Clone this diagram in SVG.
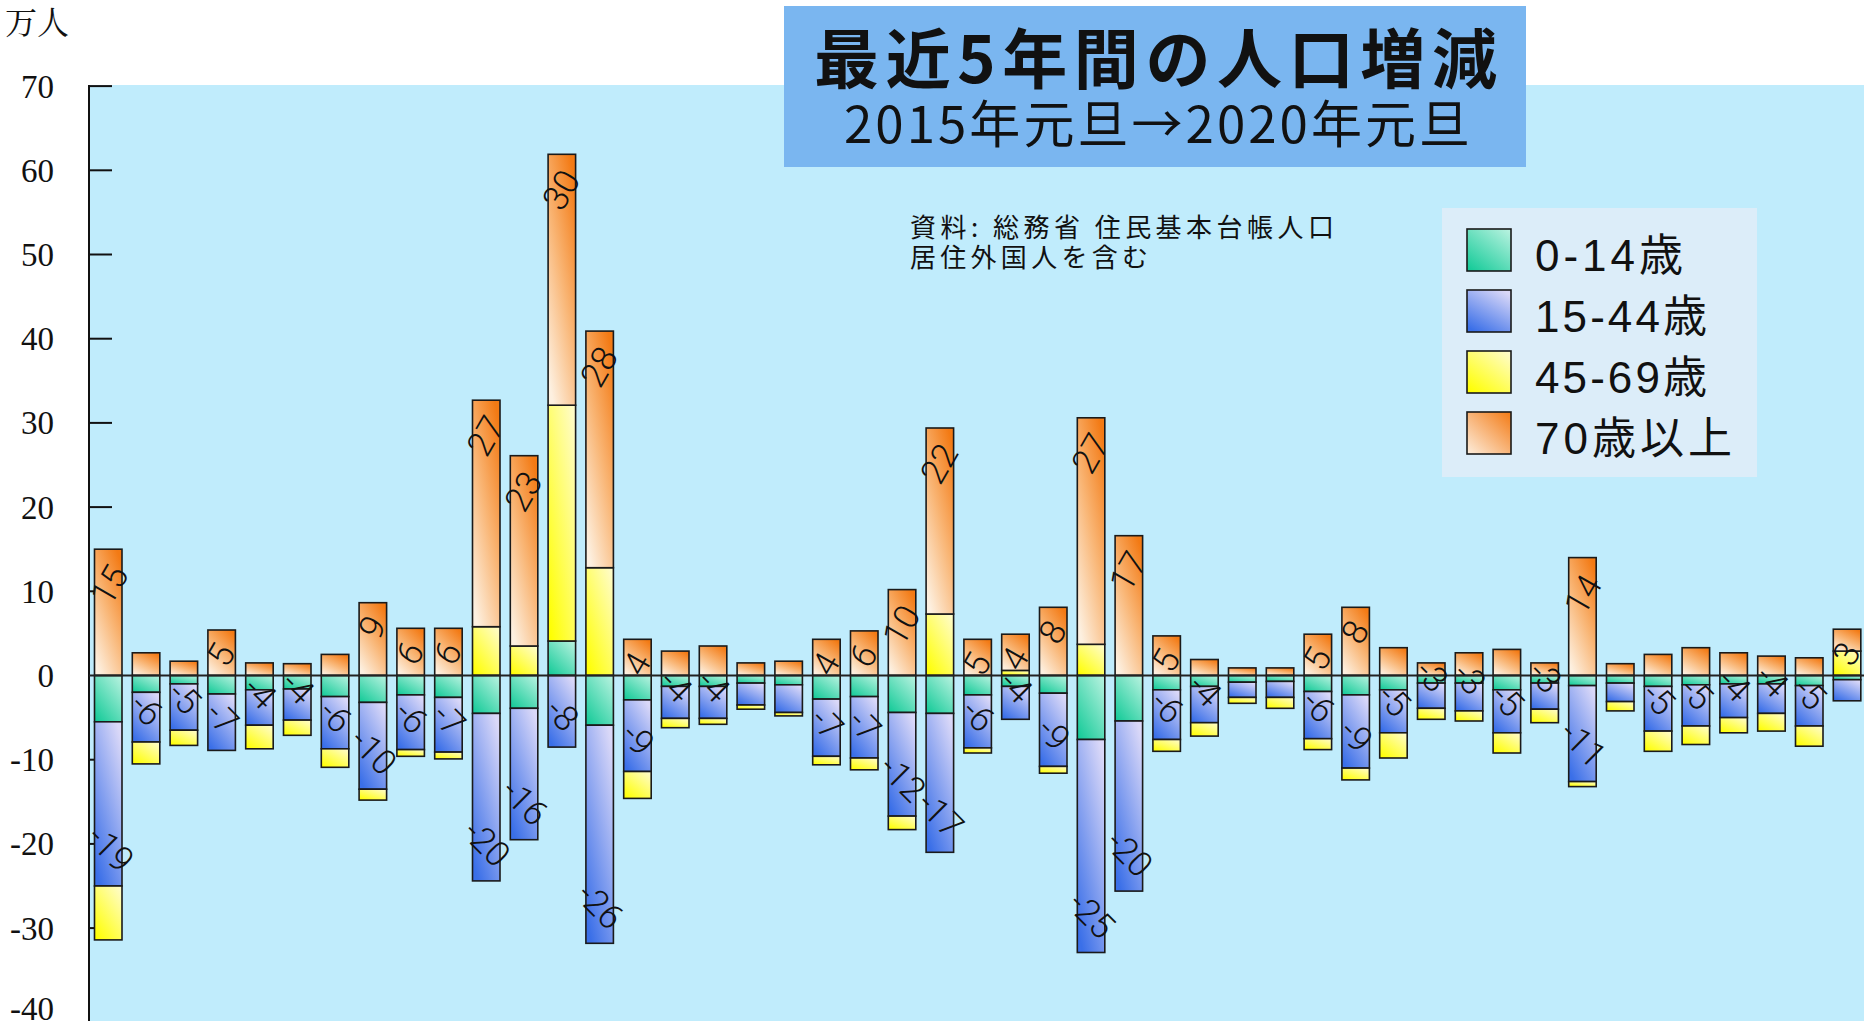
<svg xmlns="http://www.w3.org/2000/svg" width="1864" height="1024" viewBox="0 0 1864 1024">
<defs>
<linearGradient id="gO" x1="0.8" y1="0" x2="0.2" y2="1"><stop offset="0" stop-color="#f37a14"/><stop offset="0.5" stop-color="#f9b676"/><stop offset="1" stop-color="#fdf0e0"/></linearGradient>
<linearGradient id="gY" x1="0.9" y1="0" x2="0.1" y2="1"><stop offset="0" stop-color="#fffcc8"/><stop offset="1" stop-color="#ffff00"/></linearGradient>
<linearGradient id="gB" x1="0.8" y1="0" x2="0.2" y2="1"><stop offset="0" stop-color="#dad8f8"/><stop offset="1" stop-color="#3a6fe8"/></linearGradient>
<linearGradient id="gG" x1="0.9" y1="0" x2="0.1" y2="1"><stop offset="0" stop-color="#b4f1de"/><stop offset="1" stop-color="#16cb99"/></linearGradient>
<linearGradient id="gOL" x1="1" y1="0" x2="0" y2="1"><stop offset="0" stop-color="#f37a14"/><stop offset="1" stop-color="#fdeedd"/></linearGradient>
</defs>
<style>
rect.o,rect.y,rect.b,rect.g{stroke:#1a1a1a;stroke-width:1.6}
.o{fill:url(#gO)}
.y{fill:url(#gY)}
.b{fill:url(#gB)}
.g{fill:url(#gG)}
.ax{font-family:"Liberation Serif","Times New Roman",serif;font-size:33px;fill:#111;text-anchor:end}
.lbl{font-family:Roboto,"Liberation Sans",Arial,sans-serif;font-weight:300;font-size:35px;fill:#111;text-anchor:middle;dominant-baseline:central}
.tick{stroke:#111;stroke-width:2}
.cjk{font-family:"Liberation Sans","Noto Sans CJK JP",sans-serif;fill:#111}
.jp{font-family:"Noto Sans CJK JP",sans-serif;fill:#111}
</style>
<rect x="0" y="0" width="1864" height="1024" fill="#ffffff"/>
<rect id="plot" x="89" y="85" width="1775" height="936" fill="#c0ecfc"/>
<text x="5" y="34" font-family="'Noto Serif CJK JP','Noto Sans CJK JP',serif" font-size="32" textLength="64" fill="#111">万人</text>
<g id="axis">
<line class="tick" x1="89" y1="85" x2="89" y2="1021"/>
<line class="tick" x1="89" y1="86.1" x2="112" y2="86.1"/>
<line class="tick" x1="89" y1="170.3" x2="112" y2="170.3"/>
<line class="tick" x1="89" y1="254.5" x2="112" y2="254.5"/>
<line class="tick" x1="89" y1="338.7" x2="112" y2="338.7"/>
<line class="tick" x1="89" y1="422.9" x2="112" y2="422.9"/>
<line class="tick" x1="89" y1="507.1" x2="112" y2="507.1"/>
<line class="tick" x1="89" y1="591.3" x2="112" y2="591.3"/>
<line class="tick" x1="89" y1="759.7" x2="112" y2="759.7"/>
<line class="tick" x1="89" y1="843.9" x2="112" y2="843.9"/>
<line class="tick" x1="89" y1="928.1" x2="112" y2="928.1"/>
<text class="ax" x="54" y="97.6">70</text>
<text class="ax" x="54" y="181.8">60</text>
<text class="ax" x="54" y="266">50</text>
<text class="ax" x="54" y="350.2">40</text>
<text class="ax" x="54" y="434.4">30</text>
<text class="ax" x="54" y="518.6">20</text>
<text class="ax" x="54" y="602.8">10</text>
<text class="ax" x="54" y="687">0</text>
<text class="ax" x="54" y="771.2">-10</text>
<text class="ax" x="54" y="855.4">-20</text>
<text class="ax" x="54" y="939.6">-30</text>
<text class="ax" x="54" y="1020">-40</text>
</g>
<g id="title">
<rect x="784" y="6" width="742" height="161" fill="#7ab6f0"/>
<text class="jp"><tspan x="814" y="83" font-size="65" font-weight="bold" textLength="683">最近5年間の人口増減</tspan><tspan x="844" y="143" font-size="51" textLength="626">2015年元旦→2020年元旦</tspan></text>
</g>
<g id="source">
<text class="jp" font-size="26"><tspan x="910" y="237" textLength="424">資料: 総務省 住民基本台帳人口</tspan><tspan x="910" y="267" textLength="238">居住外国人を含む</tspan></text>
</g>
<g id="bars">
<g id="bar01" transform="translate(94.5 0)"><rect class="o" y="549.2" width="27.5" height="126.3"/><rect class="g" y="675.5" width="27.5" height="46.3"/><rect class="b" y="721.8" width="27.5" height="164.2"/><rect class="y" y="886" width="27.5" height="53.9"/></g>
<g id="bar02" transform="translate(132.3 0)"><rect class="o" y="652.8" width="27.5" height="22.7"/><rect class="g" y="675.5" width="27.5" height="16.8"/><rect class="b" y="692.3" width="27.5" height="49.7"/><rect class="y" y="742" width="27.5" height="21.9"/></g>
<g id="bar03" transform="translate(170.1 0)"><rect class="o" y="661.2" width="27.5" height="14.3"/><rect class="g" y="675.5" width="27.5" height="8.4"/><rect class="b" y="683.9" width="27.5" height="46.3"/><rect class="y" y="730.2" width="27.5" height="15.2"/></g>
<g id="bar04" transform="translate(207.9 0)"><rect class="o" y="630" width="27.5" height="45.5"/><rect class="g" y="675.5" width="27.5" height="18.5"/><rect class="b" y="694" width="27.5" height="56.4"/></g>
<g id="bar05" transform="translate(245.7 0)"><rect class="o" y="662.9" width="27.5" height="12.6"/><rect class="g" y="675.5" width="27.5" height="14.3"/><rect class="b" y="689.8" width="27.5" height="35.4"/><rect class="y" y="725.2" width="27.5" height="23.6"/></g>
<g id="bar06" transform="translate(283.5 0)"><rect class="o" y="663.7" width="27.5" height="11.8"/><rect class="g" y="675.5" width="27.5" height="13.5"/><rect class="b" y="689" width="27.5" height="31.1"/><rect class="y" y="720.1" width="27.5" height="15.2"/></g>
<g id="bar07" transform="translate(321.3 0)"><rect class="o" y="654.4" width="27.5" height="21.1"/><rect class="g" y="675.5" width="27.5" height="21.1"/><rect class="b" y="696.6" width="27.5" height="52.2"/><rect class="y" y="748.8" width="27.5" height="18.5"/></g>
<g id="bar08" transform="translate(359.1 0)"><rect class="o" y="602.7" width="27.5" height="72.8"/><rect class="g" y="675.5" width="27.5" height="26.9"/><rect class="b" y="702.4" width="27.5" height="86.8"/><rect class="y" y="789.2" width="27.5" height="10.9"/></g>
<g id="bar09" transform="translate(396.9 0)"><rect class="o" y="628.3" width="27.5" height="47.2"/><rect class="g" y="675.5" width="27.5" height="19.4"/><rect class="b" y="694.9" width="27.5" height="54.7"/><rect class="y" y="749.6" width="27.5" height="6.7"/></g>
<g id="bar10" transform="translate(434.7 0)"><rect class="o" y="628.3" width="27.5" height="47.2"/><rect class="g" y="675.5" width="27.5" height="21.9"/><rect class="b" y="697.4" width="27.5" height="54.7"/><rect class="y" y="752.1" width="27.5" height="6.8"/></g>
<g id="bar11" transform="translate(472.5 0)"><rect class="y" y="626.7" width="27.5" height="48.8"/><rect class="o" y="400.2" width="27.5" height="226.5"/><rect class="g" y="675.5" width="27.5" height="37.9"/><rect class="b" y="713.4" width="27.5" height="167.5"/></g>
<g id="bar12" transform="translate(510.3 0)"><rect class="y" y="646" width="27.5" height="29.5"/><rect class="o" y="455.7" width="27.5" height="190.3"/><rect class="g" y="675.5" width="27.5" height="32.8"/><rect class="b" y="708.3" width="27.5" height="131.4"/></g>
<g id="bar13" transform="translate(548.1 0)"><rect class="g" y="641" width="27.5" height="34.5"/><rect class="y" y="405.2" width="27.5" height="235.8"/><rect class="o" y="154.3" width="27.5" height="250.9"/><rect class="b" y="675.5" width="27.5" height="71.6"/></g>
<g id="bar14" transform="translate(585.9 0)"><rect class="y" y="567.7" width="27.5" height="107.8"/><rect class="o" y="331.1" width="27.5" height="236.6"/><rect class="g" y="675.5" width="27.5" height="49.7"/><rect class="b" y="725.2" width="27.5" height="218.1"/></g>
<g id="bar15" transform="translate(623.7 0)"><rect class="o" y="639.3" width="27.5" height="36.2"/><rect class="g" y="675.5" width="27.5" height="24.4"/><rect class="b" y="699.9" width="27.5" height="71.6"/><rect class="y" y="771.5" width="27.5" height="26.9"/></g>
<g id="bar16" transform="translate(661.5 0)"><rect class="o" y="651.1" width="27.5" height="24.4"/><rect class="g" y="675.5" width="27.5" height="10.9"/><rect class="b" y="686.4" width="27.5" height="32"/><rect class="y" y="718.4" width="27.5" height="9.3"/></g>
<g id="bar17" transform="translate(699.3 0)"><rect class="o" y="646" width="27.5" height="29.5"/><rect class="g" y="675.5" width="27.5" height="10.9"/><rect class="b" y="686.4" width="27.5" height="32"/><rect class="y" y="718.4" width="27.5" height="5.9"/></g>
<g id="bar18" transform="translate(737.1 0)"><rect class="o" y="662.9" width="27.5" height="12.6"/><rect class="g" y="675.5" width="27.5" height="7.6"/><rect class="b" y="683.1" width="27.5" height="21.9"/><rect class="y" y="705" width="27.5" height="4.2"/></g>
<g id="bar19" transform="translate(774.9 0)"><rect class="o" y="661.2" width="27.5" height="14.3"/><rect class="g" y="675.5" width="27.5" height="9.3"/><rect class="b" y="684.8" width="27.5" height="27.7"/><rect class="y" y="712.5" width="27.5" height="3.4"/></g>
<g id="bar20" transform="translate(812.7 0)"><rect class="o" y="639.3" width="27.5" height="36.2"/><rect class="g" y="675.5" width="27.5" height="23.6"/><rect class="b" y="699.1" width="27.5" height="57.2"/><rect class="y" y="756.3" width="27.5" height="8.5"/></g>
<g id="bar21" transform="translate(850.5 0)"><rect class="o" y="630.9" width="27.5" height="44.6"/><rect class="g" y="675.5" width="27.5" height="21.1"/><rect class="b" y="696.6" width="27.5" height="61.4"/><rect class="y" y="758" width="27.5" height="11.8"/></g>
<g id="bar22" transform="translate(888.3 0)"><rect class="o" y="589.6" width="27.5" height="85.9"/><rect class="g" y="675.5" width="27.5" height="37"/><rect class="b" y="712.5" width="27.5" height="103.6"/><rect class="y" y="816.1" width="27.5" height="13.5"/></g>
<g id="bar23" transform="translate(926.1 0)"><rect class="y" y="614" width="27.5" height="61.5"/><rect class="o" y="428" width="27.5" height="186"/><rect class="g" y="675.5" width="27.5" height="37.9"/><rect class="b" y="713.4" width="27.5" height="138.9"/></g>
<g id="bar24" transform="translate(963.9 0)"><rect class="o" y="639.3" width="27.5" height="36.2"/><rect class="g" y="675.5" width="27.5" height="19.4"/><rect class="b" y="694.9" width="27.5" height="53"/><rect class="y" y="747.9" width="27.5" height="5.1"/></g>
<g id="bar25" transform="translate(1001.7 0)"><rect class="y" y="670.4" width="27.5" height="5.1"/><rect class="o" y="634.2" width="27.5" height="36.2"/><rect class="g" y="675.5" width="27.5" height="10.9"/><rect class="b" y="686.4" width="27.5" height="32.9"/></g>
<g id="bar26" transform="translate(1039.5 0)"><rect class="o" y="607.3" width="27.5" height="68.2"/><rect class="g" y="675.5" width="27.5" height="17.7"/><rect class="b" y="693.2" width="27.5" height="73.2"/><rect class="y" y="766.4" width="27.5" height="6.8"/></g>
<g id="bar27" transform="translate(1077.3 0)"><rect class="y" y="644.3" width="27.5" height="31.2"/><rect class="o" y="417.8" width="27.5" height="226.5"/><rect class="g" y="675.5" width="27.5" height="64"/><rect class="b" y="739.5" width="27.5" height="213"/></g>
<g id="bar28" transform="translate(1115.1 0)"><rect class="o" y="535.7" width="27.5" height="139.8"/><rect class="g" y="675.5" width="27.5" height="45.5"/><rect class="b" y="721" width="27.5" height="170.1"/></g>
<g id="bar29" transform="translate(1152.9 0)"><rect class="o" y="635.9" width="27.5" height="39.6"/><rect class="g" y="675.5" width="27.5" height="14.3"/><rect class="b" y="689.8" width="27.5" height="49.7"/><rect class="y" y="739.5" width="27.5" height="11.8"/></g>
<g id="bar30" transform="translate(1190.7 0)"><rect class="o" y="659.5" width="27.5" height="16"/><rect class="g" y="675.5" width="27.5" height="10.9"/><rect class="b" y="686.4" width="27.5" height="36.3"/><rect class="y" y="722.7" width="27.5" height="13.4"/></g>
<g id="bar31" transform="translate(1228.5 0)"><rect class="o" y="667.9" width="27.5" height="7.6"/><rect class="g" y="675.5" width="27.5" height="6.7"/><rect class="b" y="682.2" width="27.5" height="15.2"/><rect class="y" y="697.4" width="27.5" height="5.9"/></g>
<g id="bar32" transform="translate(1266.3 0)"><rect class="o" y="667.9" width="27.5" height="7.6"/><rect class="g" y="675.5" width="27.5" height="5.9"/><rect class="b" y="681.4" width="27.5" height="16"/><rect class="y" y="697.4" width="27.5" height="10.9"/></g>
<g id="bar33" transform="translate(1304.1 0)"><rect class="o" y="634.2" width="27.5" height="41.3"/><rect class="g" y="675.5" width="27.5" height="16"/><rect class="b" y="691.5" width="27.5" height="47.2"/><rect class="y" y="738.7" width="27.5" height="10.9"/></g>
<g id="bar34" transform="translate(1341.9 0)"><rect class="o" y="607.3" width="27.5" height="68.2"/><rect class="g" y="675.5" width="27.5" height="19.4"/><rect class="b" y="694.9" width="27.5" height="73.2"/><rect class="y" y="768.1" width="27.5" height="11.8"/></g>
<g id="bar35" transform="translate(1379.7 0)"><rect class="o" y="647.7" width="27.5" height="27.8"/><rect class="g" y="675.5" width="27.5" height="14.3"/><rect class="b" y="689.8" width="27.5" height="43"/><rect class="y" y="732.8" width="27.5" height="25.2"/></g>
<g id="bar36" transform="translate(1417.5 0)"><rect class="o" y="662.9" width="27.5" height="12.6"/><rect class="g" y="675.5" width="27.5" height="7.6"/><rect class="b" y="683.1" width="27.5" height="25.2"/><rect class="y" y="708.3" width="27.5" height="11"/></g>
<g id="bar37" transform="translate(1455.3 0)"><rect class="o" y="652.8" width="27.5" height="22.7"/><rect class="g" y="675.5" width="27.5" height="7.6"/><rect class="b" y="683.1" width="27.5" height="27.8"/><rect class="y" y="710.9" width="27.5" height="10.1"/></g>
<g id="bar38" transform="translate(1493.1 0)"><rect class="o" y="649.4" width="27.5" height="26.1"/><rect class="g" y="675.5" width="27.5" height="14.3"/><rect class="b" y="689.8" width="27.5" height="43"/><rect class="y" y="732.8" width="27.5" height="20.2"/></g>
<g id="bar39" transform="translate(1530.9 0)"><rect class="o" y="662.9" width="27.5" height="12.6"/><rect class="g" y="675.5" width="27.5" height="7.6"/><rect class="b" y="683.1" width="27.5" height="26.1"/><rect class="y" y="709.2" width="27.5" height="13.5"/></g>
<g id="bar40" transform="translate(1568.7 0)"><rect class="o" y="557.6" width="27.5" height="117.9"/><rect class="g" y="675.5" width="27.5" height="10.1"/><rect class="b" y="685.6" width="27.5" height="96"/><rect class="y" y="781.6" width="27.5" height="5"/></g>
<g id="bar41" transform="translate(1606.5 0)"><rect class="o" y="663.7" width="27.5" height="11.8"/><rect class="g" y="675.5" width="27.5" height="7.6"/><rect class="b" y="683.1" width="27.5" height="18.5"/><rect class="y" y="701.6" width="27.5" height="9.3"/></g>
<g id="bar42" transform="translate(1644.3 0)"><rect class="o" y="654.4" width="27.5" height="21.1"/><rect class="g" y="675.5" width="27.5" height="10.9"/><rect class="b" y="686.4" width="27.5" height="44.7"/><rect class="y" y="731.1" width="27.5" height="20.2"/></g>
<g id="bar43" transform="translate(1682.1 0)"><rect class="o" y="647.7" width="27.5" height="27.8"/><rect class="g" y="675.5" width="27.5" height="9.3"/><rect class="b" y="684.8" width="27.5" height="41.2"/><rect class="y" y="726" width="27.5" height="18.5"/></g>
<g id="bar44" transform="translate(1719.9 0)"><rect class="o" y="652.8" width="27.5" height="22.7"/><rect class="g" y="675.5" width="27.5" height="8.4"/><rect class="b" y="683.9" width="27.5" height="33.7"/><rect class="y" y="717.6" width="27.5" height="15.2"/></g>
<g id="bar45" transform="translate(1757.7 0)"><rect class="o" y="656.1" width="27.5" height="19.4"/><rect class="g" y="675.5" width="27.5" height="8.4"/><rect class="b" y="683.9" width="27.5" height="29.5"/><rect class="y" y="713.4" width="27.5" height="17.7"/></g>
<g id="bar46" transform="translate(1795.5 0)"><rect class="o" y="657.8" width="27.5" height="17.7"/><rect class="g" y="675.5" width="27.5" height="10.1"/><rect class="b" y="685.6" width="27.5" height="40.4"/><rect class="y" y="726" width="27.5" height="20.2"/></g>
<g id="bar47" transform="translate(1833.3 0)"><rect class="y" y="651.1" width="27.5" height="24.4"/><rect class="o" y="629.2" width="27.5" height="21.9"/><rect class="g" y="675.5" width="27.5" height="4.2"/><rect class="b" y="679.7" width="27.5" height="21.1"/></g>
</g>
<line id="zero" x1="89" y1="675.5" x2="1864" y2="675.5" stroke="#222" stroke-width="2"/>
<g id="labels">
<text class="lbl" transform="translate(110 585.2) rotate(-60)">15</text>
<text class="lbl" transform="translate(221.65 655) rotate(-60)">5</text>
<text class="lbl" transform="translate(372.85 627.7) rotate(-60)">9</text>
<text class="lbl" transform="translate(410.65 653.3) rotate(-60)">6</text>
<text class="lbl" transform="translate(448.45 653.3) rotate(-60)">6</text>
<text class="lbl" transform="translate(486.25 436.2) rotate(-60)">27</text>
<text class="lbl" transform="translate(524.05 491.7) rotate(-60)">23</text>
<text class="lbl" transform="translate(561.85 190.3) rotate(-60)">30</text>
<text class="lbl" transform="translate(599.65 367.1) rotate(-60)">28</text>
<text class="lbl" transform="translate(637.45 664.3) rotate(-60)">4</text>
<text class="lbl" transform="translate(826.45 664.3) rotate(-60)">4</text>
<text class="lbl" transform="translate(864.25 655.9) rotate(-60)">6</text>
<text class="lbl" transform="translate(902.05 625.6) rotate(-60)">10</text>
<text class="lbl" transform="translate(939.85 464) rotate(-60)">22</text>
<text class="lbl" transform="translate(977.65 664.3) rotate(-60)">5</text>
<text class="lbl" transform="translate(1015.45 659.2) rotate(-60)">4</text>
<text class="lbl" transform="translate(1053.25 632.3) rotate(-60)">8</text>
<text class="lbl" transform="translate(1091.05 453.8) rotate(-60)">27</text>
<text class="lbl" transform="translate(1128.85 571.7) rotate(-60)">17</text>
<text class="lbl" transform="translate(1166.65 660.9) rotate(-60)">5</text>
<text class="lbl" transform="translate(1317.85 659.2) rotate(-60)">5</text>
<text class="lbl" transform="translate(1355.65 632.3) rotate(-60)">8</text>
<text class="lbl" transform="translate(1583.5 595) rotate(-60)">14</text>
<text class="lbl" transform="translate(1847.05 654.2) rotate(-60)">3</text>
<text class="lbl" transform="translate(110 849) rotate(45)">-19</text>
<text class="lbl" transform="translate(146.05 710) rotate(45)">-6</text>
<text class="lbl" transform="translate(183.85 698.2) rotate(45)">-5</text>
<text class="lbl" transform="translate(221.65 718.4) rotate(45)">-7</text>
<text class="lbl" transform="translate(259.45 693.2) rotate(45)">-4</text>
<text class="lbl" transform="translate(297.25 688.1) rotate(45)">-4</text>
<text class="lbl" transform="translate(335.05 716.8) rotate(45)">-6</text>
<text class="lbl" transform="translate(372.85 752.2) rotate(45)">-10</text>
<text class="lbl" transform="translate(410.65 717.6) rotate(45)">-6</text>
<text class="lbl" transform="translate(448.45 720.1) rotate(45)">-7</text>
<text class="lbl" transform="translate(486.25 843.9) rotate(45)">-20</text>
<text class="lbl" transform="translate(524.05 802.7) rotate(45)">-16</text>
<text class="lbl" transform="translate(561.85 715.1) rotate(45)">-8</text>
<text class="lbl" transform="translate(599.65 906.3) rotate(45)">-26</text>
<text class="lbl" transform="translate(637.45 739.5) rotate(45)">-9</text>
<text class="lbl" transform="translate(675.25 686.4) rotate(45)">-4</text>
<text class="lbl" transform="translate(713.05 686.4) rotate(45)">-4</text>
<text class="lbl" transform="translate(826.45 724.3) rotate(45)">-7</text>
<text class="lbl" transform="translate(864.25 726) rotate(45)">-7</text>
<text class="lbl" transform="translate(902.05 779.1) rotate(45)">-12</text>
<text class="lbl" transform="translate(939.85 815.3) rotate(45)">-17</text>
<text class="lbl" transform="translate(977.65 715.9) rotate(45)">-6</text>
<text class="lbl" transform="translate(1015.45 687.3) rotate(45)">-4</text>
<text class="lbl" transform="translate(1053.25 734.4) rotate(45)">-9</text>
<text class="lbl" transform="translate(1091.05 915.5) rotate(45)">-25</text>
<text class="lbl" transform="translate(1128.85 854.1) rotate(45)">-20</text>
<text class="lbl" transform="translate(1166.65 707.5) rotate(45)">-6</text>
<text class="lbl" transform="translate(1204.45 690.7) rotate(45)">-4</text>
<text class="lbl" transform="translate(1317.85 706.7) rotate(45)">-6</text>
<text class="lbl" transform="translate(1355.65 736.1) rotate(45)">-9</text>
<text class="lbl" transform="translate(1393.45 700.8) rotate(45)">-5</text>
<text class="lbl" transform="translate(1431.25 676.3) rotate(45)">-3</text>
<text class="lbl" transform="translate(1469.05 678.9) rotate(45)">-3</text>
<text class="lbl" transform="translate(1506.85 700.8) rotate(45)">-5</text>
<text class="lbl" transform="translate(1544.65 677.2) rotate(45)">-3</text>
<text class="lbl" transform="translate(1582.45 744.6) rotate(45)">-11</text>
<text class="lbl" transform="translate(1658.05 699.1) rotate(45)">-5</text>
<text class="lbl" transform="translate(1695.85 694) rotate(45)">-5</text>
<text class="lbl" transform="translate(1733.65 685.6) rotate(45)">-4</text>
<text class="lbl" transform="translate(1771.45 681.4) rotate(45)">-4</text>
<text class="lbl" transform="translate(1809.25 694) rotate(45)">-5</text>
</g>
<g id="legend">
<rect x="1442" y="208" width="315" height="269" fill="#dcedf9"/>
<rect class="g" x="1467" y="229" width="44" height="42"/>
<rect class="b" x="1467" y="290" width="44" height="42"/>
<rect class="y" x="1467" y="351" width="44" height="42"/>
<rect x="1467" y="412" width="44" height="42" fill="url(#gOL)" stroke="#1a1a1a" stroke-width="1.6"/>
<text class="cjk" x="1535" y="271" font-size="44" textLength="148">0-14歳</text>
<text class="cjk" x="1535" y="332" font-size="44" textLength="172">15-44歳</text>
<text class="cjk" x="1535" y="393" font-size="44" textLength="172">45-69歳</text>
<text class="cjk" x="1535" y="454" font-size="44" textLength="197">70歳以上</text>
</g>
</svg>
